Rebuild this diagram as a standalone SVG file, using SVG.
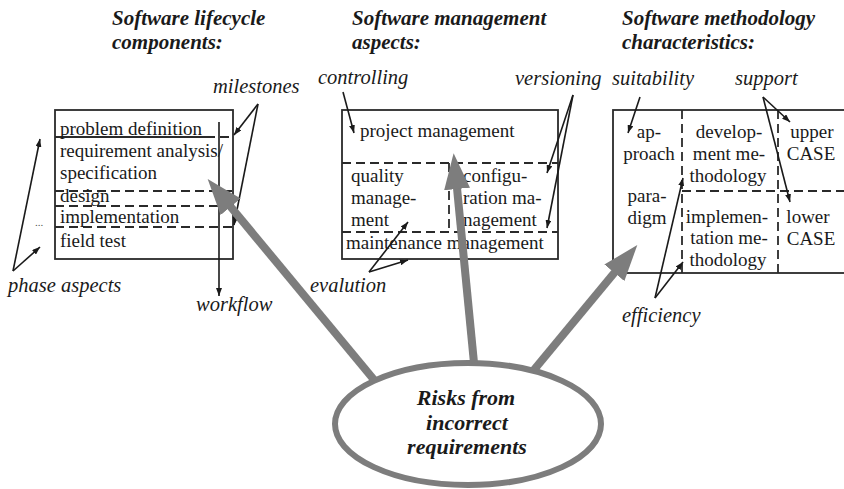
<svg xmlns="http://www.w3.org/2000/svg" width="844" height="489" viewBox="0 0 844 489">
  <defs>
    <style>
      .title { font-family: "Liberation Serif", serif; font-size: 21px; font-weight: bold; font-style: italic; fill: #1a1a1a; }
      .label { font-family: "Liberation Serif", serif; font-size: 20.5px; font-style: italic; fill: #1a1a1a; }
      .txt { font-family: "Liberation Serif", serif; font-size: 19px; fill: #1a1a1a; }
      .mid { text-anchor: middle; }
      .risk { font-family: "Liberation Serif", serif; font-size: 22px; font-weight: bold; font-style: italic; fill: #1a1a1a; text-anchor: middle; }
      .box { fill: #ffffff; stroke: #2a2a2a; stroke-width: 1.8; }
      .dash { stroke: #2a2a2a; stroke-width: 1.8; stroke-dasharray: 9 5; fill: none; }
      .solid { stroke: #2a2a2a; stroke-width: 1.8; fill: none; }
      .thin { stroke: #1a1a1a; stroke-width: 1.6; fill: none; marker-end: url(#tip); }
      .fat { stroke: #7d7d7d; stroke-width: 8; fill: none; marker-end: url(#bigHead); }
    </style>
    <marker id="tip" markerUnits="userSpaceOnUse" markerWidth="8" markerHeight="6" viewBox="0 0 8 6" refX="8" refY="3" orient="auto">
      <path d="M0,0 L8,3 L0,6 z" fill="#1a1a1a"/>
    </marker>
    <marker id="bigHead" markerUnits="userSpaceOnUse" markerWidth="36" markerHeight="26" viewBox="0 0 36 26" refX="1" refY="13" orient="auto">
      <path d="M0,0 L36,13 L0,26 z" fill="#7d7d7d"/>
    </marker>
  </defs>

  <rect width="844" height="489" fill="#ffffff"/>

  <!-- column headings -->
  <g id="title-lifecycle">
    <text class="title" x="112" y="25">Software lifecycle</text>
    <text class="title" x="112" y="49">components:</text>
  </g>
  <g id="title-management">
    <text class="title" x="352" y="25">Software management</text>
    <text class="title" x="352" y="49">aspects:</text>
  </g>
  <g id="title-methodology">
    <text class="title" x="622" y="25">Software methodology</text>
    <text class="title" x="622" y="49">characteristics:</text>
  </g>

  <!-- lifecycle phases -->
  <g id="box-lifecycle">
    <rect class="box" x="55" y="110" width="178" height="149"/>
    <line class="solid" x1="55" y1="137" x2="206" y2="137"/>
    <line class="dash" x1="206" y1="137" x2="233" y2="137"/>
    <line class="dash" x1="55" y1="191" x2="233" y2="191"/>
    <line class="dash" x1="55" y1="206" x2="233" y2="206"/>
    <line class="dash" x1="55" y1="227" x2="233" y2="227"/>
    <text class="txt" x="60" y="135">problem definition</text>
    <text class="txt" x="60" y="157">requirement analysis/</text>
    <text class="txt" x="60" y="179">specification</text>
    <text class="txt" x="60" y="202">design</text>
    <text class="txt" x="60" y="223">implementation</text>
    <text class="txt" x="60" y="247">field test</text>
  </g>

  <!-- management aspects -->
  <g id="box-management">
    <rect class="box" x="342" y="110" width="216" height="149"/>
    <line class="dash" x1="342" y1="163" x2="558" y2="163"/>
    <line class="dash" x1="342" y1="232" x2="558" y2="232"/>
    <line class="dash" x1="449" y1="163" x2="449" y2="232"/>
    <text class="txt" x="360" y="137">project management</text>
    <text class="txt" x="351" y="182">quality</text>
    <text class="txt" x="351" y="204">manage-</text>
    <text class="txt" x="351" y="226">ment</text>
    <text class="txt" x="463" y="182">configu-</text>
    <text class="txt" x="463" y="204">ration ma-</text>
    <text class="txt" x="463" y="226">nagement</text>
    <text class="txt" x="346" y="249">maintenance management</text>
  </g>

  <!-- methodology characteristics -->
  <g id="box-methodology">
    <rect class="box" x="613" y="110" width="236" height="163"/>
    <line class="dash" x1="682" y1="110" x2="682" y2="273"/>
    <line class="dash" x1="778" y1="110" x2="778" y2="273"/>
    <line class="dash" x1="682" y1="191" x2="846" y2="191"/>
    <text class="txt mid" x="649" y="138">ap-</text>
    <text class="txt mid" x="649" y="160">proach</text>
    <text class="txt mid" x="647" y="202">para-</text>
    <text class="txt mid" x="647" y="224">digm</text>
    <text class="txt mid" x="729" y="138">develop-</text>
    <text class="txt mid" x="729" y="160">ment me-</text>
    <text class="txt mid" x="728" y="182">thodology</text>
    <text class="txt mid" x="727" y="223">implemen-</text>
    <text class="txt mid" x="729" y="244">tation me-</text>
    <text class="txt mid" x="728" y="266">thodology</text>
    <text class="txt mid" x="812" y="138">upper</text>
    <text class="txt mid" x="811" y="160">CASE</text>
    <text class="txt mid" x="808" y="223">lower</text>
    <text class="txt mid" x="811" y="245">CASE</text>
  </g>

  <!-- annotation labels -->
  <g id="label-milestones"><text class="label" x="213" y="93">milestones</text></g>
  <g id="label-controlling"><text class="label" x="318" y="84">controlling</text></g>
  <g id="label-versioning"><text class="label" x="515" y="85">versioning</text></g>
  <g id="label-suitability"><text class="label" x="612" y="85">suitability</text></g>
  <g id="label-support"><text class="label" x="735" y="85">support</text></g>
  <g id="label-phase"><text class="label" x="8" y="292">phase aspects</text></g>
  <g id="label-workflow"><text class="label" x="196" y="311">workflow</text></g>
  <g id="label-evalution"><text class="label" x="310" y="292">evalution</text></g>
  <g id="label-efficiency"><text class="label" x="622" y="322">efficiency</text></g>
  <g id="label-ellipsis"><text x="35" y="226" font-family="Liberation Serif, serif" font-size="11" fill="#555">...</text></g>

  <!-- central risk node -->
  <g id="node-risks">
    <ellipse cx="468" cy="424" rx="133" ry="61" fill="#ffffff" stroke="#7d7d7d" stroke-width="6"/>
    <text class="risk" x="466" y="405">Risks from</text>
    <text class="risk" x="467" y="430">incorrect</text>
    <text class="risk" x="467" y="454">requirements</text>
  </g>

  <!-- connectors -->
  <g id="connectors">
    <line class="thin" x1="219" y1="122" x2="219" y2="296"/>
    <line class="thin" x1="258" y1="104" x2="234" y2="135"/>
    <line class="thin" x1="258" y1="104" x2="234" y2="225"/>
    <line class="thin" x1="13" y1="271" x2="40" y2="139"/>
    <line class="thin" x1="13" y1="271" x2="40" y2="247"/>
    <line class="thin" x1="343" y1="92" x2="354" y2="133"/>
    <line class="thin" x1="573" y1="95" x2="547" y2="173"/>
    <line class="thin" x1="573" y1="95" x2="547" y2="228"/>
    <line class="thin" x1="640" y1="97" x2="628" y2="133"/>
    <line class="thin" x1="763" y1="97" x2="790" y2="122"/>
    <line class="thin" x1="763" y1="97" x2="790" y2="202"/>
    <line class="thin" x1="655" y1="298" x2="683" y2="178"/>
    <line class="thin" x1="655" y1="298" x2="683" y2="262"/>
    <line class="thin" x1="369" y1="272" x2="408" y2="222"/>
    <line class="thin" x1="369" y1="272" x2="408" y2="260"/>
    <line class="fat" x1="375" y1="381" x2="230" y2="206"/>
    <line class="fat" x1="474" y1="363" x2="457" y2="188"/>
    <line class="fat" x1="533" y1="371" x2="615" y2="272"/>
  </g>
</svg>
